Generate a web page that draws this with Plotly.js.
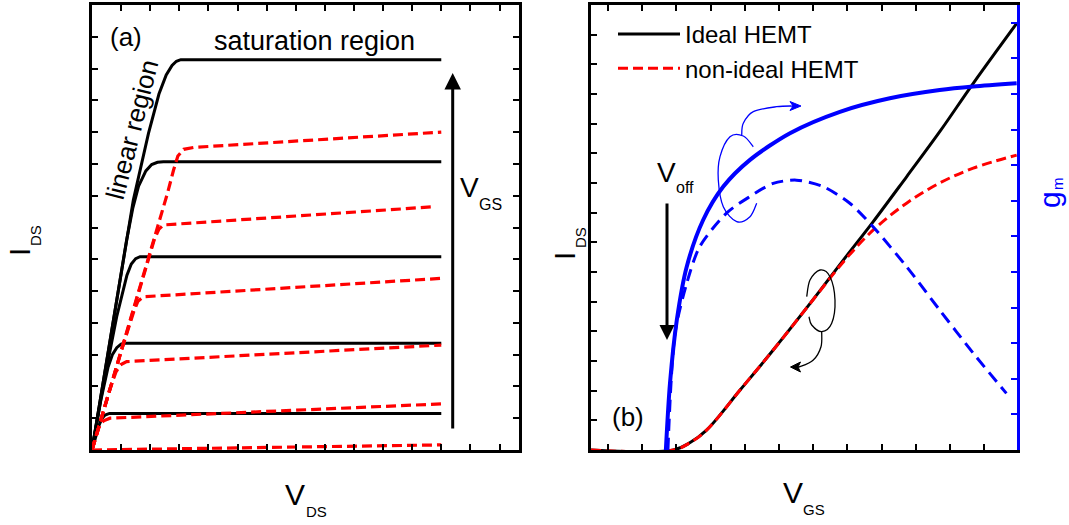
<!DOCTYPE html>
<html>
<head>
<meta charset="utf-8">
<script src="https://cdn.plot.ly/plotly-3.0.1.min.js"></script>
<style>html,body{margin:0;padding:0;background:#fff;}</style>
</head>
<body>
<div id="chart" style="width:1069px;height:525px;"></div>
<script>
// ---- Panel (a): output characteristics, I_DS versus V_DS ----
// ideal device (solid), one curve per gate bias
const vdsIdeal1 = [0, 0.28, 0.85, 1.42, 1.94, 2.3, 2.55, 2.75, 2.9, 3.05, 12];
const idsIdeal1 = [0, 1.57, 4.72, 7.86, 9.96, 11.2, 11.8, 12.1, 12.23, 12.28, 12.28];
const vdsIdeal2 = [0, 0.28, 0.85, 1.19, 1.4, 1.6, 1.85, 2.05, 2.25, 2.45, 12];
const idsIdeal2 = [0, 1.57, 4.72, 6.61, 7.6, 8.3, 8.78, 8.98, 9.05, 9.07, 9.07];
const vdsIdeal3 = [0, 0.4, 0.85, 1.05, 1.2, 1.35, 1.5, 1.65, 12];
const idsIdeal3 = [0, 2.1, 4.2, 5.0, 5.5, 5.85, 6.02, 6.08, 6.08];
const vdsIdeal4 = [0, 0.3, 0.55, 0.7, 0.85, 1.0, 1.1, 12];
const idsIdeal4 = [0, 1.55, 2.6, 3.0, 3.22, 3.33, 3.36, 3.36];
const vdsIdeal5 = [0, 0.15, 0.25, 0.35, 0.45, 0.6, 12];
const idsIdeal5 = [0, 0.45, 0.8, 1.0, 1.1, 1.15, 1.15];

// non-ideal device (dashed)
const vdsReal1 = [0, 1.0, 2.0, 2.6, 2.8, 2.95, 3.15, 3.5, 12];
const idsReal1 = [0, 3.1, 6.2, 8.1, 8.8, 9.25, 9.46, 9.52, 10.0];
const vdsReal2 = [0, 1.0, 1.95, 2.15, 2.3, 2.45, 11.7];
const idsReal2 = [0, 3.1, 6.05, 6.65, 6.95, 7.08, 7.65];
const vdsReal3 = [0, 1.0, 1.45, 1.58, 1.76, 12];
const idsReal3 = [0, 3.1, 4.4, 4.68, 4.82, 5.4];
const vdsReal4 = [0, 0.6, 0.82, 0.98, 1.19, 12];
const idsReal4 = [0, 1.87, 2.45, 2.68, 2.78, 3.3];
const vdsReal5 = [0, 0.25, 0.4, 0.62, 12];
const idsReal5 = [0, 0.75, 0.92, 1.0, 1.45];
const vdsReal6 = [0, 12];
const idsReal6 = [0, 0.16];

// ---- Panel (b): transfer characteristics and transconductance ----
const vgsIdeal = [0, 2.41, 2.9, 3.38, 4.36, 5.33, 6.41, 7.38, 8.25, 9.23, 10.20, 11.18, 12.45];
const idsTransIdeal = [0, 0, 0.25, 0.67, 2.02, 3.37, 4.94, 6.40, 7.69, 9.21, 10.73, 12.36, 14.38];
const vgsReal = [0, 2.41, 2.9, 3.38, 4.36, 5.33, 6.41, 7.38, 8.25, 9.23, 10.20, 11.18, 12.45];
const idsTransReal = [0, 0, 0.25, 0.67, 2.02, 3.37, 4.94, 6.34, 7.41, 8.32, 9.00, 9.50, 9.94];
const vgsGmIdeal = [2.19, 2.31, 2.51, 2.80, 3.28, 3.87, 4.65, 5.82, 7.28, 8.74, 10.20, 11.18, 12.45];
const gmIdeal = [0, 1.87, 3.65, 5.15, 6.46, 7.40, 8.15, 8.90, 9.50, 9.88, 10.11, 10.21, 10.30];
const vgsGmReal = [2.25, 2.46, 2.80, 3.18, 3.97, 4.65, 5.33, 6.01, 6.79, 7.57, 8.25, 9.23, 10.20, 11.18, 12.15];
const gmReal = [0, 3.29, 4.68, 5.71, 6.66, 7.12, 7.49, 7.58, 7.40, 6.93, 6.27, 5.15, 3.93, 2.72, 1.59];

const legendNames = ['Ideal HEMT', 'non-ideal HEMT'];

const FONT = '"Liberation Sans", Arial, sans-serif';
const BLACK = '#000000', RED = '#ff0000', BLUE = '#0000ff';
const W = 1069, H = 525;
const px = x => x / W;
const py = y => 1 - y / H;

const traces = [];
function addCurve(x, y, line, xa, ya, extra) {
  traces.push(Object.assign({
    x: x, y: y, xaxis: xa, yaxis: ya, mode: 'lines', showlegend: false,
    hoverinfo: 'skip', line: line
  }, extra || {}));
}

// panel (a): straight segments between the read points
[[vdsIdeal1, idsIdeal1], [vdsIdeal2, idsIdeal2], [vdsIdeal3, idsIdeal3],
 [vdsIdeal4, idsIdeal4], [vdsIdeal5, idsIdeal5]].forEach(c =>
  addCurve(c[0], c[1], {color: BLACK, width: 3}, 'x', 'y'));
[[vdsReal1, idsReal1], [vdsReal2, idsReal2], [vdsReal3, idsReal3],
 [vdsReal4, idsReal4], [vdsReal5, idsReal5], [vdsReal6, idsReal6]].forEach(c =>
  addCurve(c[0], c[1], {color: RED, width: 3.2, dash: '10px,5px'}, 'x', 'y'));

// panel (b): smooth curves
addCurve(vgsGmIdeal, gmIdeal, {color: BLUE, width: 4, shape: 'spline', smoothing: 0.8}, 'x2', 'y4');
addCurve(vgsGmReal, gmReal, {color: BLUE, width: 3, dash: '12px,7px', shape: 'spline', smoothing: 0.8}, 'x2', 'y4');
addCurve(vgsIdeal, idsTransIdeal, {color: BLACK, width: 3, shape: 'spline', smoothing: 1}, 'x2', 'y3',
  {name: legendNames[0], showlegend: true});
addCurve(vgsReal, idsTransReal, {color: RED, width: 3, dash: '10px,5px', shape: 'spline', smoothing: 1}, 'x2', 'y3',
  {name: legendNames[1], showlegend: true});

const yDom = [py(450), py(5)];
const axisBase = {
  showgrid: false, zeroline: false, showticklabels: false,
  ticks: 'inside', ticklen: 6, tickwidth: 2, tickcolor: BLACK,
  showline: true, linecolor: BLACK, linewidth: 3, fixedrange: true
};

function txt(text, x, y, size, opts) {
  return Object.assign({
    text: text, xref: 'paper', yref: 'paper', x: px(x), y: py(y),
    xanchor: 'center', yanchor: 'middle', showarrow: false,
    font: {family: FONT, size: size, color: BLACK}
  }, opts || {});
}

const annotations = [
  txt('(a)', 125.5, 37.5, 26),
  txt('saturation region', 314, 41, 27),
  txt('linear region', 132, 130, 26, {textangle: -75.6}),
  txt('V', 469, 188, 28),
  txt('GS', 490, 204, 16),
  txt('(b)', 627.5, 416.5, 26),
  txt('V', 666, 172, 28),
  txt('off', 685, 188, 16),
  // axis titles
  txt('I', 19, 252, 30, {textangle: -90}),
  txt('DS', 35, 236, 15, {textangle: -90}),
  txt('V', 294.5, 494, 30),
  txt('DS', 316.7, 511.7, 15),
  txt('I', 564, 256, 30, {textangle: -90}),
  txt('DS', 580, 238, 15, {textangle: -90}),
  txt('V', 793.3, 492.5, 30),
  txt('GS', 814, 509, 15),
  txt('g', 1049, 200, 30, {textangle: -90, font: {family: FONT, size: 30, color: BLUE}}),
  txt('m', 1057, 184, 15, {textangle: -90, font: {family: FONT, size: 15, color: BLUE}}),
  // V_GS direction arrow
  {xref: 'paper', yref: 'paper', x: px(452.7), y: py(73), ax: 0, ay: 357, text: '',
   showarrow: true, arrowhead: 2, arrowsize: 1.1, arrowwidth: 3, arrowcolor: BLACK, standoff: 0, startstandoff: 0},
  // V_off arrow
  {xref: 'paper', yref: 'paper', x: px(667), y: py(340), ax: 0, ay: -138, text: '',
   showarrow: true, arrowhead: 2, arrowsize: 1.0, arrowwidth: 3, arrowcolor: BLACK, standoff: 0, startstandoff: 0}
];

// smooth open curve through pixel points, expressed in paper coordinates
function smoothPath(pts) {
  let d = 'M' + px(pts[0][0]) + ',' + py(pts[0][1]);
  for (let i = 0; i < pts.length - 1; i++) {
    const p0 = pts[i - 1] || pts[i], p1 = pts[i], p2 = pts[i + 1], p3 = pts[i + 2] || p2;
    const c1 = [p1[0] + (p2[0] - p0[0]) / 6, p1[1] + (p2[1] - p0[1]) / 6];
    const c2 = [p2[0] - (p3[0] - p1[0]) / 6, p2[1] - (p3[1] - p1[1]) / 6];
    d += ' C' + px(c1[0]) + ',' + py(c1[1]) + ' ' + px(c2[0]) + ',' + py(c2[1]) + ' ' + px(p2[0]) + ',' + py(p2[1]);
  }
  return d;
}
function polyPath(pts) {
  return 'M' + pts.map(p => px(p[0]) + ',' + py(p[1])).join(' L') + ' Z';
}

// curly markers pointing each pair of curves to its axis
const gmLoop = [[753.3, 146.7], [743.3, 136], [730, 136.7], [720, 156.7], [718.3, 180], [723.3, 206.7], [736.7, 221.7], [750, 216.7], [756.7, 203.3]];
const gmTail = [[741.7, 135], [743.3, 123.3], [753.3, 111.7], [776.7, 106.7], [794, 106]];
const idLoop = [[806.7, 296.7], [810, 280], [820, 270], [830, 276.7], [835, 300], [831.7, 323.3], [821.7, 331.7], [811.7, 325], [809, 316.7]];
const idTail = [[821.7, 331.7], [821, 346.7], [813.3, 360], [800, 366.7], [796, 366.7]];

const shapes = [
  {type: 'path', xref: 'paper', yref: 'paper', path: smoothPath(gmLoop), line: {color: BLUE, width: 1.3}},
  {type: 'path', xref: 'paper', yref: 'paper', path: smoothPath(gmTail), line: {color: BLUE, width: 1.3}},
  {type: 'path', xref: 'paper', yref: 'paper', path: polyPath([[801, 106], [790, 101.5], [793, 106], [790, 110.5]]), line: {color: BLUE, width: 1}, fillcolor: BLUE},
  {type: 'path', xref: 'paper', yref: 'paper', path: smoothPath(idLoop), line: {color: BLACK, width: 1.3}},
  {type: 'path', xref: 'paper', yref: 'paper', path: smoothPath(idTail), line: {color: BLACK, width: 1.3}},
  {type: 'path', xref: 'paper', yref: 'paper', path: polyPath([[790.5, 367], [800.5, 362], [798, 367], [800.5, 372]]), line: {color: BLACK, width: 1}, fillcolor: BLACK}
];

const layout = {
  width: W, height: H,
  margin: {l: 0, r: 0, t: 0, b: 0, pad: 0},
  paper_bgcolor: '#ffffff', plot_bgcolor: 'rgba(0,0,0,0)',
  font: {family: FONT, size: 24, color: BLACK},
  xaxis: Object.assign({}, axisBase, {domain: [px(92), px(519)], range: [0, 14.67], tick0: 0, dtick: 1, mirror: 'ticks', anchor: 'y'}),
  yaxis: Object.assign({}, axisBase, {domain: yDom, range: [0, 14], tick0: 0, dtick: 1, mirror: 'ticks', anchor: 'x'}),
  xaxis2: Object.assign({}, axisBase, {domain: [px(591), px(1017)], range: [0, 12.46], tick0: 0.5, dtick: 1, mirror: 'ticks', anchor: 'y3'}),
  yaxis3: Object.assign({}, axisBase, {domain: yDom, range: [0, 15], tick0: 0, dtick: 1, anchor: 'x2'}),
  yaxis4: Object.assign({}, axisBase, {domain: yDom, range: [0, 12.5], tick0: 0, dtick: 1, anchor: 'x2', overlaying: 'y3', side: 'right',
    linecolor: BLUE, tickcolor: BLUE}),
  showlegend: true,
  legend: {x: px(613), y: py(12), xanchor: 'left', yanchor: 'top', bgcolor: 'rgba(0,0,0,0)',
    borderwidth: 0, itemwidth: 62, font: {family: FONT, size: 24, color: BLACK}, tracegroupgap: 0},
  annotations: annotations,
  shapes: shapes
};

Plotly.newPlot('chart', traces, layout, {staticPlot: true, displayModeBar: false});
</script>
</body>
</html>
